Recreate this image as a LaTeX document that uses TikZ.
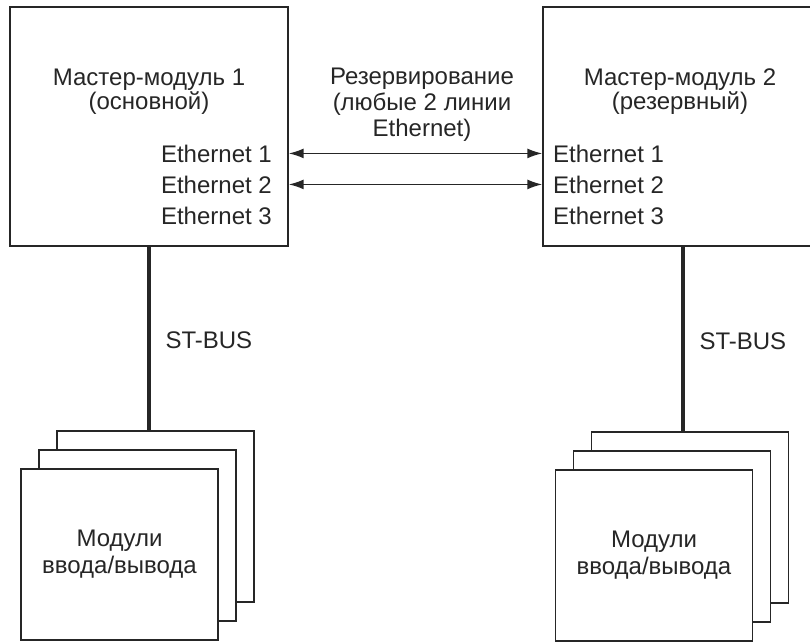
\documentclass[tikz,border=0pt]{standalone}
\usepackage{fontspec}
\setmainfont{Liberation Sans}
\usepackage{tikz}
\usetikzlibrary{arrows.meta, positioning}

\begin{document}
\begin{tikzpicture}[x=1pt, y=-1pt, color=black!85, >={Latex[length=15pt,width=10pt]},
	font=\fontsize{24}{26}\selectfont,
	master/.style={draw, line width=1.4pt, minimum width=278pt, minimum height=239pt},
	title/.style={align=center, font=\fontsize{24}{24}\selectfont},
	port/.style={inner sep=0pt},
	card/.style={draw, fill=white, line width=1.4pt, minimum width=197pt,
		minimum height=171pt, align=center, font=\fontsize{24}{27}\selectfont},
	bus/.style={line width=4pt},
	link/.style={<->, line width=1.6pt}]
	\useasboundingbox (0,0) rectangle (810,641);

	% master modules
	\node[master] (m1) at (149,126.5) {};
	\node[master, minimum width=280pt] (m2) at (683,126.5) {};
	\node[title] (t1) at (149,92) {Мастер-модуль 1\\(основной)};
	\node[title] (t2) at (680,92) {Мастер-модуль 2\\(резервный)};

	\node[port, anchor=base east] (e11) at (272,162) {Ethernet 1};
	\node[port, anchor=base east] (e12) at (272,193) {Ethernet 2};
	\node[port, anchor=base east] (e13) at (272,224) {Ethernet 3};
	\node[port, anchor=base west] (e21) at (553,162) {Ethernet 1};
	\node[port, anchor=base west] (e22) at (553,193) {Ethernet 2};
	\node[port, anchor=base west] (e23) at (553,224) {Ethernet 3};

	\node[align=center] (res) at (422,105) {Резервирование\\(любые 2 линии\\Ethernet)};
	\draw[link] (m1.east |- e11) -- (m2.west |- e21);
	\draw[link] (m1.east |- e12) -- (m2.west |- e22);

	% I/O modules
	\node[card] (c13) at (155.5,516.5) {};
	\node[card] (c12) at ([shift={(-18,19)}]c13) {};
	\node[card] (c11) at ([shift={(-18,19)}]c12) {Модули\\ввода/вывода};
	\node[card] (c23) at (690,517.5) {};
	\node[card] (c22) at ([shift={(-18,19)}]c23) {};
	\node[card] (c21) at ([shift={(-18,19)}]c22) {Модули\\ввода/вывода};

	\draw[bus] (m1.south) -- (m1.south |- c13.north);
	\draw[bus] (m2.south) -- (m2.south |- c23.north);
	\node[anchor=base west] (sb1) at (162,348) {ST-BUS};
	\node[anchor=base west] (sb2) at (696,349) {ST-BUS};
\end{tikzpicture}
\end{document}
